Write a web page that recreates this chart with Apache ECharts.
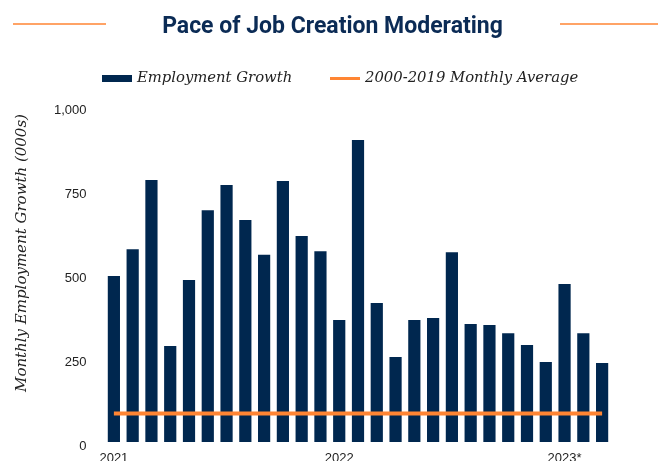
<!DOCTYPE html>
<html>
<head>
<meta charset="utf-8">
<style>html,body{margin:0;padding:0;background:#fff}#chart{width:665px;height:461px}</style>
<script src="https://cdn.jsdelivr.net/npm/echarts@6/dist/echarts.min.js"></script>
</head>
<body>
<div id="chart"></div>
<script>
const months = ['2021-01','2021-02','2021-03','2021-04','2021-05','2021-06','2021-07','2021-08','2021-09','2021-10','2021-11','2021-12',
  '2022-01','2022-02','2022-03','2022-04','2022-05','2022-06','2022-07','2022-08','2022-09','2022-10','2022-11','2022-12',
  '2023-01','2023-02','2023-03'];
const employmentGrowth = [494,574,780,286,482,690,765,661,557,777,613,568,363,899,414,253,363,369,565,351,348,324,289,238,470,324,235];
const monthlyAverage = [85,85,85,85,85,85,85,85,85,85,85,85,85,85,85,85,85,85,85,85,85,85,85,85,85,85,85];
const yearLabels = {'2021-01':'2021','2022-01':'2022','2023-01':'2023*'};

const navy = '#00274f';
const orange = '#ff8533';
const serif = "'DejaVu Serif', 'Liberation Serif', serif";
const sans = "'Liberation Sans', Arial, sans-serif";
const legendText = {fontFamily: serif, fontStyle: 'italic', fontSize: 14.8, color: '#222'};

const chart = echarts.init(document.getElementById('chart'));
chart.setOption({
  animation: false,
  title: {
    text: 'Pace of Job Creation Moderating',
    left: 'center', top: 11,
    textStyle: {fontFamily: "'Liberation Sans Narrow', 'Roboto', sans-serif", fontWeight: 'bold', fontSize: 23, color: '#0b2b55'}
  },
  graphic: [
    {type: 'line', shape: {x1: 13, y1: 24, x2: 106, y2: 24}, style: {stroke: orange, lineWidth: 1.5}},
    {type: 'line', shape: {x1: 560, y1: 24, x2: 658, y2: 24}, style: {stroke: orange, lineWidth: 1.5}},
    {type: 'text', x: 22, y: 253, rotation: Math.PI / 2,
     style: {text: 'Monthly Employment Growth (000s)', fontFamily: serif, fontStyle: 'italic', fontSize: 15, fill: '#222', align: 'center', verticalAlign: 'middle'}}
  ],
  legend: [
    {
      left: 97, top: 66, itemWidth: 30, itemHeight: 7, itemGap: 10,
      textStyle: legendText,
      data: [{name: 'Employment Growth', icon: 'rect'}]
    },
    {
      left: 325, top: 66, itemWidth: 30, itemHeight: 3, itemGap: 10,
      textStyle: legendText,
      data: [{name: '2000-2019 Monthly Average', icon: 'rect', itemStyle: {color: orange}}]
    }
  ],
  grid: {left: 104.5, right: 53.5, top: 106, bottom: 19, outerBoundsMode: 'none', containLabel: false},
  xAxis: {
    type: 'category', data: months,
    axisLine: {show: false}, axisTick: {show: false},
    axisLabel: {
      interval: 0, margin: 10,
      formatter: v => yearLabels[v] || '',
      fontFamily: sans, fontSize: 13, color: '#222'
    }
  },
  yAxis: {
    type: 'value', min: 0, max: 1000, interval: 250,
    splitLine: {show: false}, axisLine: {show: false}, axisTick: {show: false},
    axisLabel: {
      margin: 18, verticalAlign: 'top', lineHeight: 8,
      formatter: v => v.toLocaleString('en-US'),
      fontFamily: sans, fontSize: 13, color: '#222'
    }
  },
  series: [
    {name: 'Employment Growth', type: 'bar', data: employmentGrowth, barWidth: '65%', itemStyle: {color: navy}},
    {name: '2000-2019 Monthly Average', type: 'line', data: monthlyAverage, symbol: 'none',
     lineStyle: {color: orange, width: 4}, itemStyle: {color: orange}, z: 5}
  ]
});
</script>
</body>
</html>
